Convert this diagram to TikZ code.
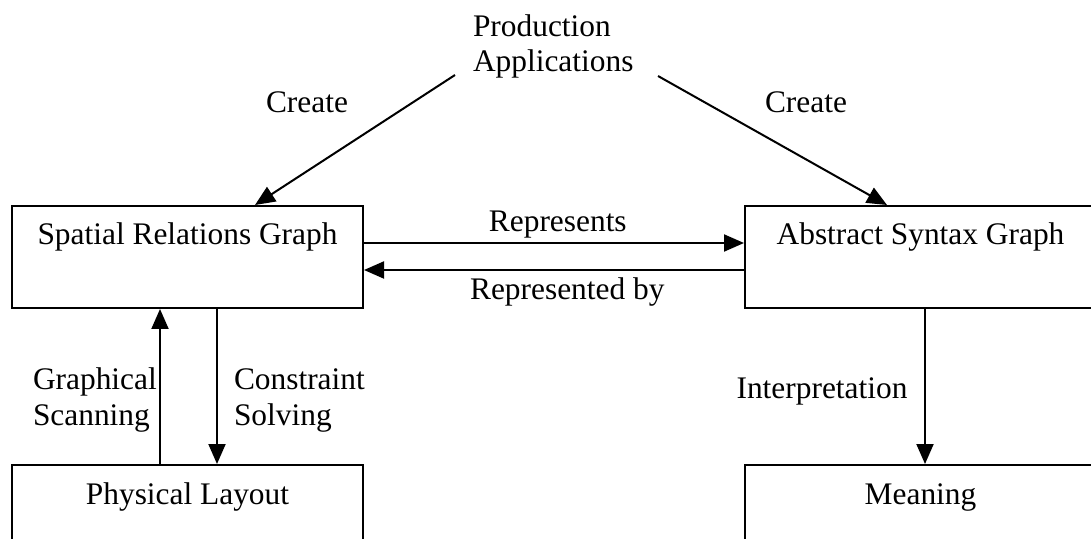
\documentclass[tikz,border=0pt]{standalone}
\usepackage{fontspec}
\setmainfont{Liberation Serif}
\usetikzlibrary{arrows.meta}
\usetikzlibrary{calc}

\begin{document}
\begin{tikzpicture}[x=0.5pt,y=-0.5pt,line width=1pt,
  font=\fontsize{15.7}{17.8}\selectfont,
  blockbox/.style={shape=rectangle,draw,inner sep=0pt,minimum width=175.5pt,text height=19.5pt,text depth=31.5pt},
  lbl/.style={inner sep=0pt,anchor=base},
  arr/.style={-{Triangle[length=10pt,width=8.5pt]}}]
\useasboundingbox (0,0) rectangle (1091,539);
\clip (0,0) rectangle (1091,539);
\draw (187.5,245) node (spatial) [blockbox,anchor=base] {Spatial Relations Graph};
\draw (920.5,245) node (abstract) [blockbox,anchor=base] {Abstract Syntax Graph};
\draw (187.5,504) node (physical) [blockbox,anchor=base] {Physical Layout};
\draw (920.5,504) node (meaning) [blockbox,anchor=base] {Meaning};
\draw (472,72) node (prod) [lbl,anchor=base west,align=left] {Production\\Applications};
\coordinate (prodl) at (455,75);
\coordinate (prodr) at (658,76);
\draw (prodl) ++(-148,38) node (create1) [lbl] {Create};
\draw (prodr) ++(148,37) node (create2) [lbl] {Create};
\draw[arr] (prodl) -- ($(spatial.north)+(67.5,0)$);
\draw[arr] (prodr) -- ($(abstract.north)+(-33.5,0)$);
\draw[arr] ($(spatial.base east)+(0,-2)$) -- ($(abstract.base west)+(0,-2)$) node (rep) [lbl,pos=0.51,yshift=5.5pt] {Represents};
\draw[arr] ($(abstract.base west)+(0,25)$) -- ($(spatial.base east)+(0,25)$) node (repby) [lbl,pos=0.465,yshift=-15pt] {Represented by};
\draw[arr] ($(physical.north)+(-27.5,0)$) -- ($(spatial.south)+(-27.5,0)$);
\draw[arr] ($(spatial.south)+(29.5,0)$) -- ($(physical.north)+(29.5,0)$);
\draw (32,425) node (scan) [lbl,anchor=base west,align=left] {Graphical\\Scanning};
\draw (233,425) node (solve) [lbl,anchor=base west,align=left] {Constraint\\Solving};
\draw[arr] ($(abstract.south)+(4.5,0)$) -- ($(meaning.north)+(4.5,0)$);
\draw (822,398) node (interp) [lbl] {Interpretation};
\end{tikzpicture}
\end{document}
